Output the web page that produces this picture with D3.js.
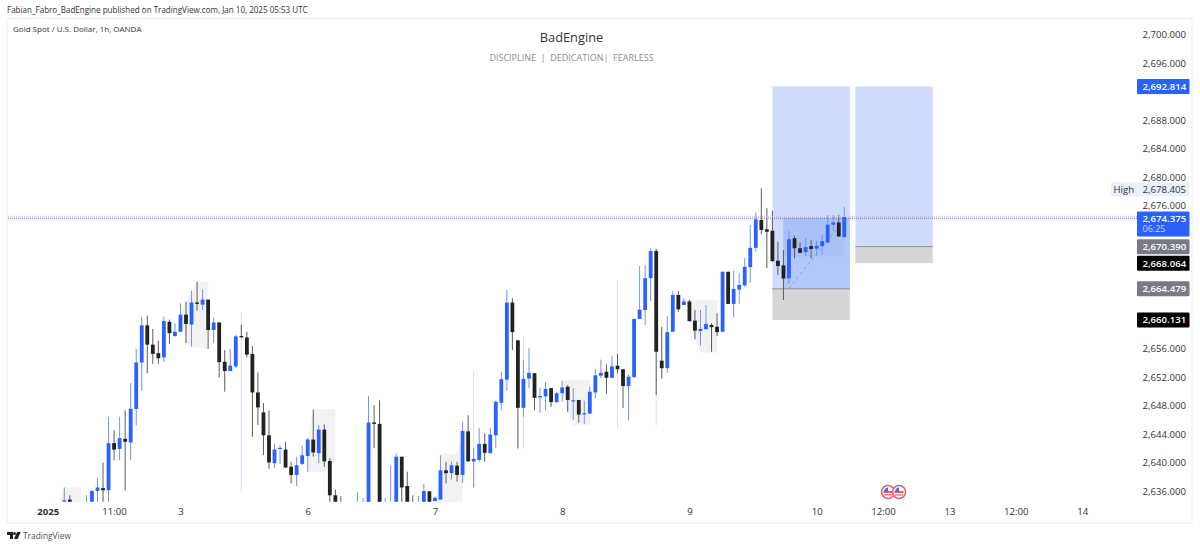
<!DOCTYPE html>
<html>
<head>
<meta charset="utf-8">
<script src="https://d3js.org/d3.v7.min.js"></script>
<style>
  html, body { margin: 0; padding: 0; background: #fff; }
  svg { display: block; }
  text { font-family: "Open Sans", sans-serif; }
</style>
</head>
<body>
<div id="d3-container"></div>
<script>
// hourly candles, oldest first
const opens = [
  2633.5,2634.8,2632,2633,2632.5,2633.5,2636,2636.4,2636.1,2642.7,
  2641.9,2643.3,2642.8,2647.5,2654,2659.2,2656.5,2655.3,2654.7,2659.7,
  2657.7,2658.3,2660.7,2659.3,2662.4,2662.1,2662.8,2658.55,2659.6,2654.1,
  2652.8,2653.45,2657.7,2657.5,2655.2,2649.8,2647,2643.8,2639.9,2641.9,
  2641.8,2639.4,2638.25,2639.8,2640.9,2643.2,2641.3,2644.6,2640.2,2635.4,
  2634,2633.5,2632,2632,2632.5,2633,2645.6,2645.4,2632,2632.5,
  2633,2640.8,2636.7,2634,2633,2633.5,2635.95,2634.6,2634.8,2638.9,
  2638.5,2639.55,2638.25,2644.35,2640.15,2640.35,2642.6,2641.3,2643.8,2648.35,
  2651.6,2662.4,2657.1,2647.65,2651.75,2652.5,2649.1,2649.25,2650.4,2648.45,
  2649.7,2650.6,2648.55,2648.75,2646.8,2646.85,2649.8,2652.15,2652.7,2651.85,
  2653.55,2653.05,2650.7,2651.95,2660.1,2661.35,2665.8,2669.6,2654.25,2653.2,
  2658.3,2663.45,2662.05,2662.55,2659.85,2658.4,2658.65,2659.25,2659,2658.3,
  2666.7,2662.2,2664.2,2664.8,2667.35,2670.05,2673.95,2672.65,2672.45,2668.25,
  2667.6,2665.8,2671.4,2670,2669.45,2670.3,2669.95,2670.3,2670.8,2673.3,
  2673.6,2671.55
];
const highs = [
  2636.5,2635.4,2634,2634,2635.4,2636.1,2637.8,2640,2646.4,2644.5,
  2646.4,2647.3,2651.1,2655.9,2660.4,2660.55,2658.7,2657.05,2660.4,2660,
  2659.5,2662.3,2662.5,2664.05,2665.3,2664.2,2662.8,2660.3,2659.6,2655.75,
  2655.9,2657.85,2659.25,2658.3,2656.3,2652.6,2648.3,2647.25,2642.6,2642.4,
  2642.9,2640.1,2640.8,2642.4,2643.4,2647.4,2645.25,2645.3,2640.6,2636.2,
  2635.3,2634,2634,2635.8,2635,2649.35,2648,2648.7,2635,2639.55,
  2641.25,2640.8,2638.7,2635.4,2635.3,2637,2636,2635.2,2641,2640.1,
  2640.1,2640.1,2645.7,2646.6,2642.05,2644.8,2644.1,2644.9,2648.65,2652.7,
  2664.15,2663,2657.1,2654.35,2656,2652.5,2650.45,2651.3,2650.4,2649.9,
  2651.45,2650.85,2650.4,2648.75,2648.65,2650.6,2653.05,2654.4,2653.75,2654.9,
  2655.2,2653.05,2652.4,2660.1,2667.5,2667.65,2670,2669.9,2659,2660.5,
  2664,2664,2663,2662.75,2661.35,2661.35,2662.05,2659.5,2660.9,2666.7,
  2666.7,2666.85,2666.45,2668.6,2673.25,2675,2678.4,2675.6,2675.25,2670.9,
  2669.75,2672.45,2671.75,2670.8,2671.4,2671.15,2671.05,2671.85,2674.65,2674.65,
  2674.65,2675.8
];
const lows = [
  2633,2633,2631,2631,2632,2633,2633,2633,2634,2640.3,
  2640.3,2636.1,2640.3,2645.2,2650.05,2652.5,2653.8,2653.8,2654.1,2656.6,
  2657.6,2658.3,2656.7,2656.2,2661.25,2661.35,2655.9,2656.7,2651.9,2649.9,
  2652.8,2653.2,2657.4,2654.7,2643.6,2645.25,2641.05,2639.1,2639.2,2639.8,
  2639.2,2637.05,2636.7,2639.6,2638.7,2640.8,2639.9,2639.4,2634,2633,
  2633,2631,2631,2631.5,2632,2632,2642,2632,2632,2632,
  2632,2634,2633,2632.5,2632.5,2633,2633,2634,2634.8,2637.05,
  2637.6,2637.3,2637.15,2640.1,2636.5,2640.1,2640.1,2641.3,2642.05,2647.3,
  2650.05,2655.75,2641.95,2646.4,2650.4,2647.3,2646.95,2647.25,2647.8,2648.35,
  2648.5,2647.1,2645.95,2645.55,2645.4,2646.75,2649,2651.8,2649.6,2651.85,
  2652.5,2647.6,2645.85,2651.85,2660.1,2659.25,2662.65,2649.45,2651.7,2652.55,
  2658.3,2661.1,2662.05,2659.7,2657.25,2656.35,2658.65,2655.5,2657.7,2658.3,
  2662.2,2660.3,2662.2,2664.6,2665.15,2669.5,2671.95,2667.2,2668.1,2666.25,
  2662.75,2665,2668.6,2669.3,2668.9,2668.6,2668.9,2669.05,2670.7,2672.4,
  2671.6,2671.5
];
const closes = [
  2634.7,2633.5,2633,2632,2633.5,2636,2636.5,2636.1,2642.7,2641.8,
  2643.4,2642.9,2647.5,2654,2659.2,2656.5,2655.2,2654.6,2659.8,2658.1,
  2658.3,2660.7,2659.4,2662.4,2662.2,2662.8,2658.55,2659.6,2654.05,2652.8,
  2653.55,2657.65,2657.6,2655.1,2649.8,2647.7,2643.8,2640,2641.8,2642.05,
  2639.3,2638.25,2639.6,2641,2643.2,2641.4,2644.6,2640.15,2635.4,2633.5,
  2633.5,2632,2633,2634,2634,2645.6,2645.4,2633,2634,2634,
  2640.8,2636.5,2633.5,2633,2634,2636,2633.5,2635.05,2638.9,2638.5,
  2639.6,2638.25,2644.4,2640.15,2640.5,2642.6,2641.35,2643.9,2648.5,2651.65,
  2662.4,2658.25,2647.65,2651.7,2652.55,2649.05,2649.3,2650.3,2648.45,2649.7,
  2650.5,2648.75,2648.7,2646.7,2646.9,2649.9,2652.2,2652.55,2651.85,2653.45,
  2653.05,2650.7,2652,2660.1,2661.4,2665.8,2669.6,2655.5,2653.2,2658.25,
  2663.45,2661.45,2662.55,2659.8,2658.45,2658.7,2659.4,2658.95,2658.25,2666.7,
  2662.2,2664.3,2664.85,2667.4,2670.05,2674.05,2672.55,2672.3,2668.2,2667.5,
  2665.75,2671.25,2670,2669.35,2670.15,2669.9,2670.35,2671,2673.3,2673.6,
  2671.65,2674.375
];

// long pale wicks that sit behind a few candles
const paleIndex = [32, 74, 83, 100, 107];
const paleHigh = [2661, 2652.7, 2657.6, 2665.55, 2669.9];
const paleLow = [2635.9, 2636.5, 2642, 2644.9, 2645.2];

// grey highlight shapes, [candle index, price]
const greyShapes = [
  [[-1,2634],[0,2636.5],[3,2636.5],[3,2634]],
  [[21,2660.9],[24,2665.3],[26,2665.3],[26,2655.9],[23,2656.2],[22,2656.8]],
  [[44,2643.35],[45,2647.45],[49,2647.45],[49,2640.1],[47,2638.7],[44,2638.7]],
  [[68,2641.2],[71,2641.2],[72,2644.4],[72,2634],[67,2634],[68,2638.9]],
  [[90,2651.5],[95,2651.5],[95,2645.2],[92,2645.2],[91,2647.1],[90,2649.7]],
  [[113,2662.75],[118,2662.75],[118,2655.4],[115,2655.4],[114,2657.25],[113,2659.8]]
];

// ticks covered by the price tags are left out
const priceTicks = [2636, 2640, 2644, 2648, 2652, 2656, 2676, 2680, 2684, 2688, 2696, 2700];
const timeIndex = [-3, 9, 21, 44, 67, 90, 113, 136, 148, 160, 172, 184];
const timeLabels = ["2025", "11:00", "3", "6", "7", "8", "9", "10", "12:00", "13", "12:00", "14"];
const eventIndex = [148.9, 150.9];

const tagValues = [2692.814, 2670.39, 2668.064, 2664.479, 2660.131];
const tagFills = ["#2962ff", "#787b86", "#000000", "#787b86", "#000000"];
const lastPrice = 2674.375;
const highPrice = 2678.405;

const width = 1200;
const height = 548;
const blue = "#2962ff";
const dark = "#222222";

const svg = d3.select("#d3-container")
  .append("svg")
  .attr("width", width)
  .attr("height", height)
  .attr("viewBox", [0, 0, width, height]);

const x = d3.scaleLinear().domain([0, 141]).range([64.3, 844.3]);
const y = d3.scaleLinear().domain([2636, 2700]).range([491, 34]);
// price levels and their tags sit a touch lower than the tick text
const level = v => y(v) + 1.2;

svg.append("text").attr("x", 7).attr("y", 13).attr("font-family", "Lato").attr("font-size", 8.05).attr("fill", "#333")
  .text("Fabian_Fabro_BadEngine published on TradingView.com, Jan 10, 2025 05:53 UTC");

svg.append("rect")
  .attr("x", 7).attr("y", 18.5).attr("width", 1185).attr("height", 504.5)
  .attr("fill", "#fff").attr("stroke", "#eeeeee");

svg.append("clipPath").attr("id", "plot")
  .append("rect").attr("x", 8).attr("y", 19).attr("width", 1129).attr("height", 482.7);

svg.append("text").attr("x", 13).attr("y", 32).attr("font-family", "Lato").attr("font-size", 8).attr("fill", "#333")
  .text("Gold Spot / U.S. Dollar, 1h, OANDA");

svg.append("text").attr("x", 571.5).attr("y", 42).attr("text-anchor", "middle")
  .attr("font-size", 12.8).attr("fill", "#333").text("BadEngine");
svg.append("text").attr("x", 571.5).attr("y", 60.5).attr("text-anchor", "middle")
  .attr("font-size", 9).attr("fill", "#8a8d96")
  .text("DISCIPLINE  |  DEDICATION|  FEARLESS").attr("xml:space", "preserve");

const plot = svg.append("g").attr("clip-path", "url(#plot)");

plot.append("g").selectAll("path")
  .data(greyShapes)
  .join("path")
  .attr("fill", "#f2f2f3")
  .attr("d", d3.line().x(d => x(d[0])).y(d => y(d[1])).curve(d3.curveLinearClosed));

// first position: target and stop
plot.append("rect").attr("x", x(128)).attr("width", x(142) - x(128))
  .attr("y", level(2692.814)).attr("height", level(2664.479) - level(2692.814)).attr("fill", "#cfdcfd");
plot.append("rect").attr("x", x(128)).attr("width", x(142) - x(128))
  .attr("y", level(2664.479)).attr("height", level(2660.131) - level(2664.479)).attr("fill", "#d6d6d6");
plot.append("rect").attr("x", x(130)).attr("width", x(142) - x(130))
  .attr("y", level(lastPrice)).attr("height", level(2664.479) - level(lastPrice)).attr("fill", "#b2c7fb");
plot.append("rect").attr("x", x(130)).attr("width", x(141) - x(130))
  .attr("y", level(lastPrice)).attr("height", level(2669) - level(lastPrice)).attr("fill", "#abc0f6");
plot.append("line").attr("x1", x(128)).attr("x2", x(142))
  .attr("y1", level(2664.479)).attr("y2", level(2664.479)).attr("stroke", "#8e8e94");

// second position
plot.append("rect").attr("x", x(143)).attr("width", x(157) - x(143))
  .attr("y", level(2692.814)).attr("height", level(2670.39) - level(2692.814)).attr("fill", "#cfdcfd");
plot.append("rect").attr("x", x(143)).attr("width", x(157) - x(143))
  .attr("y", level(2670.39)).attr("height", level(2668.064) - level(2670.39)).attr("fill", "#d6d6d6");
plot.append("line").attr("x1", x(143)).attr("x2", x(157))
  .attr("y1", level(2670.39)).attr("y2", level(2670.39)).attr("stroke", "#8e8e94");

plot.append("line").attr("x1", x(131)).attr("y1", y(2664.4)).attr("x2", x(141)).attr("y2", y(2674))
  .attr("stroke", "#8f9bb5").attr("stroke-dasharray", "3 3");

// pale wicks
plot.append("g").selectAll("line")
  .data(paleIndex)
  .join("line")
  .attr("x1", d => x(d)).attr("x2", d => x(d))
  .attr("y1", (d, i) => y(paleHigh[i])).attr("y2", (d, i) => y(paleLow[i]))
  .attr("stroke", "#d3def6");

const isUp = i => closes[i] >= opens[i];

const candles = plot.append("g").selectAll("g")
  .data(d3.range(opens.length))
  .join("g");

candles.append("line")
  .attr("x1", i => x(i)).attr("x2", i => x(i))
  .attr("y1", i => y(highs[i])).attr("y2", i => y(lows[i]))
  .attr("stroke", i => isUp(i) ? "#6f93f8" : "#5c5c5c");

candles.append("rect")
  .attr("x", i => x(i) - 1.9)
  .attr("width", 3.8)
  .attr("y", i => y(Math.max(opens[i], closes[i])))
  .attr("height", i => Math.max(1.2, Math.abs(y(opens[i]) - y(closes[i]))))
  .attr("fill", i => isUp(i) ? blue : dark);

// last price lines
plot.append("line").attr("x1", 8).attr("x2", 1137).attr("y1", 216.3).attr("y2", 216.3)
  .attr("stroke", "#f2b0c0").attr("stroke-width", 1).attr("stroke-dasharray", "1 1");
plot.append("line").attr("x1", 8).attr("x2", 1137).attr("y1", level(lastPrice)).attr("y2", level(lastPrice))
  .attr("stroke", blue).attr("stroke-width", 1).attr("stroke-opacity", 0.8).attr("stroke-dasharray", "1 1");

// price axis
const yAxis = svg.append("g")
  .attr("transform", "translate(1142.5,0.4)")
  .call(d3.axisRight(y).tickValues(priceTicks).tickFormat(d3.format(",.3f")).tickSize(0).tickPadding(0));
yAxis.select(".domain").remove();
yAxis.selectAll("text").attr("font-size", 9.6).attr("fill", "#333").attr("font-family", "\"Open Sans\", sans-serif");

// time axis
const xAxis = svg.append("g")
  .attr("transform", "translate(0,505.5)")
  .call(d3.axisBottom(x).tickValues(timeIndex).tickFormat((d, i) => timeLabels[i]).tickSize(0).tickPadding(3));
xAxis.select(".domain").remove();
xAxis.selectAll("text").attr("font-size", 9.6).attr("fill", "#333").attr("font-family", "\"Open Sans\", sans-serif")
  .attr("font-weight", (d, i) => i === 0 ? 700 : 400);

// price tags
const tags = svg.append("g").selectAll("g")
  .data(tagValues)
  .join("g")
  .attr("transform", d => `translate(1137,${level(d)})`);
tags.append("rect").attr("y", -7.5).attr("width", 52.5).attr("height", 15).attr("rx", 1)
  .attr("fill", (d, i) => tagFills[i]);
tags.append("text").attr("x", 5.5).attr("y", 3.4).attr("font-size", 9.6).attr("fill", "#fff")
  .attr("font-weight", 600).text(d3.format(",.3f"));

// high tag
const highTag = svg.append("g").attr("transform", `translate(1111,${level(highPrice)})`);
highTag.append("rect").attr("y", -7).attr("width", 78.5).attr("height", 14).attr("fill", "#e8f0fb");
highTag.append("text").attr("x", 2.5).attr("y", 3.5).attr("font-size", 9.6).attr("fill", "#333").text("High");
highTag.append("text").attr("x", 31.5).attr("y", 3.5).attr("font-size", 9.6).attr("fill", "#333").text(d3.format(",.3f")(highPrice));

// last price tag with countdown
const lastTag = svg.append("g").attr("transform", `translate(1137,${level(lastPrice)})`);
lastTag.append("rect").attr("y", -6.8).attr("width", 52.5).attr("height", 25).attr("rx", 1).attr("fill", blue);
lastTag.append("text").attr("x", 5.5).attr("y", 3.4).attr("font-size", 9.6).attr("fill", "#fff")
  .attr("font-weight", 600).text(d3.format(",.3f")(lastPrice));
lastTag.append("text").attr("x", 5.5).attr("y", 14).attr("font-size", 9).attr("fill", "#c9d8ff").text("06:25");

// economic event flags
const flags = svg.append("g").selectAll("g").data(eventIndex).join("g")
  .attr("transform", d => `translate(${x(d)},492)`);
flags.append("circle").attr("r", 6.5).attr("fill", "#fff").attr("stroke", "#e8606c").attr("stroke-width", 1.5);
flags.append("path").attr("d", "M-4.5,-1H4.5V1H-4.5ZM-4,2.2H4V3.4H-4Z").attr("fill", "#e8606c");
flags.append("path").attr("d", "M-4,-1A4.5,4.5,0,0,1,0,-4.5V0H-4Z").attr("fill", "#3f74d8");

// footer logo and name
svg.append("path").attr("fill", "#222")
  .attr("d", "M7,532H13V539H10V535H7ZM14.5,535A1.5,1.5,0,1,1,14.5,532A1.5,1.5,0,1,1,14.5,535ZM17,532H20.8L17.6,539H14Z");
svg.append("text").attr("x", 23).attr("y", 539).attr("font-family", "Lato").attr("font-size", 8.4).attr("fill", "#50535e").text("TradingView");
</script>
</body>
</html>
